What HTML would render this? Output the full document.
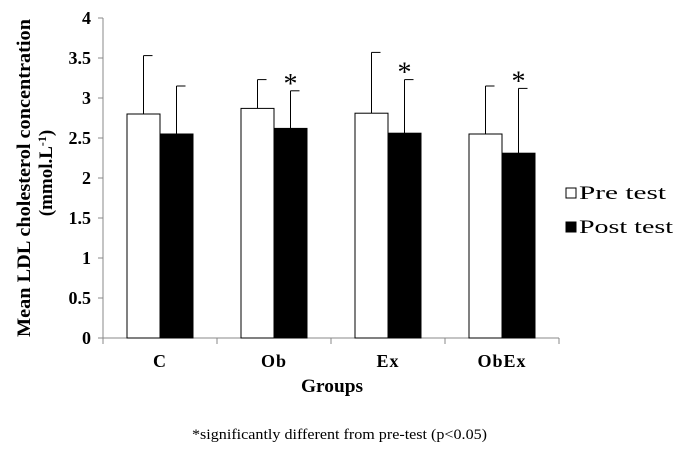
<!DOCTYPE html>
<html><head><meta charset="utf-8"><style>
body{margin:0;background:#fff;font-family:"Liberation Serif",serif}
</style></head><body>
<svg width="680" height="450" font-family="Liberation Serif, serif">
<g id="axes"></g><g id="bars"></g>
<text x="301" y="392" font-size="19" font-weight="bold" textLength="62" lengthAdjust="spacingAndGlyphs">Groups</text>
<text transform="translate(30,178) rotate(-90)" font-size="19" font-weight="bold" text-anchor="middle" textLength="318" lengthAdjust="spacingAndGlyphs">Mean LDL cholesterol concentration</text>
<text transform="translate(52,173) rotate(-90)" font-size="19" font-weight="bold" text-anchor="middle">(mmol.L<tspan font-size="12" dy="-6">-1</tspan><tspan dy="6">)</tspan></text>
<g>
<rect x="566" y="188" width="10" height="10" fill="#fff" stroke="#000"/>
<text x="579" y="199" font-size="19" textLength="87" lengthAdjust="spacingAndGlyphs">Pre test</text>
<rect x="566" y="222" width="10" height="10" fill="#000" stroke="#000"/>
<text x="579" y="233" font-size="19" textLength="94" lengthAdjust="spacingAndGlyphs">Post test</text>
</g>
<text x="192" y="439" font-size="15" textLength="295" lengthAdjust="spacingAndGlyphs">*significantly different from pre-test (p&lt;0.05)</text>
</svg>
<script>
const categories=["C","Ob","Ex","ObEx"];
const preValues=[2.8,2.87,2.81,2.55];
const preErrors=[0.73,0.36,0.76,0.6];
const postValues=[2.55,2.62,2.56,2.31];
const postErrors=[0.6,0.47,0.67,0.81];
const significant=[false,true,true,true];
const yTicks=[0,0.5,1,1.5,2,2.5,3,3.5,4];
const NS="http://www.w3.org/2000/svg";
const x0=103,gw=114,y0=338,ppu=80,bw=33;
const y=v=>y0-v*ppu;
function mk(t,a,p){const e=document.createElementNS(NS,t);for(const k in a)e.setAttribute(k,a[k]);p.appendChild(e);return e;}
const ax=document.getElementById('axes'),bg=document.getElementById('bars');
const yl=mk('line',{x1:x0,y1:y(4),x2:x0,y2:y0,stroke:'#888'},ax);


const xl=mk('line',{x1:x0,y1:y0,x2:x0+gw*4,y2:y0,stroke:'#888'},ax);


yTicks.forEach(t=>{
 mk('line',{x1:x0-5,x2:x0,y1:y(t),y2:y(t),stroke:'#888'},ax);
 const tx=mk('text',{x:x0-12,y:y(t)+6,'font-size':18,'font-weight':'bold','text-anchor':'end'},ax);
 tx.textContent=String(t);
 
 
});
for(let i=0;i<=4;i++)mk('line',{x1:x0+gw*i,x2:x0+gw*i,y1:y0,y2:y0+6,stroke:'#888'},ax);
categories.forEach((c,i)=>{
 const cx=x0+gw*i+gw/2;
 const lb=mk('text',{x:cx,y:y0+29,'font-size':18,'font-weight':'bold','text-anchor':'middle','letter-spacing':1},ax);
 lb.textContent=c;
 
 
 [[preValues[i],preErrors[i],'#fff',cx-bw,'bar-pre'],[postValues[i],postErrors[i],'#000',cx,'bar-post']].forEach(([v,e,f,bx,n])=>{
  const ex=bx+bw/2;
  const el=mk('line',{x1:ex,x2:ex,y1:y(v),y2:y(v+e),stroke:'#000'},bg);
  
  
  mk('line',{x1:ex,x2:ex+9,y1:y(v+e),y2:y(v+e),stroke:'#000'},bg);
  const r=mk('rect',{x:bx,y:y(v),width:bw,height:v*ppu,fill:f,stroke:'#000'},bg);
  
  
 });
 if(significant[i]){
  const s=mk('text',{x:cx+bw/2,y:y(postValues[i]+postErrors[i])+2,'font-size':28,'text-anchor':'middle'},bg);
  s.textContent='*';
  
  
 }
});
</script>
</body></html>
